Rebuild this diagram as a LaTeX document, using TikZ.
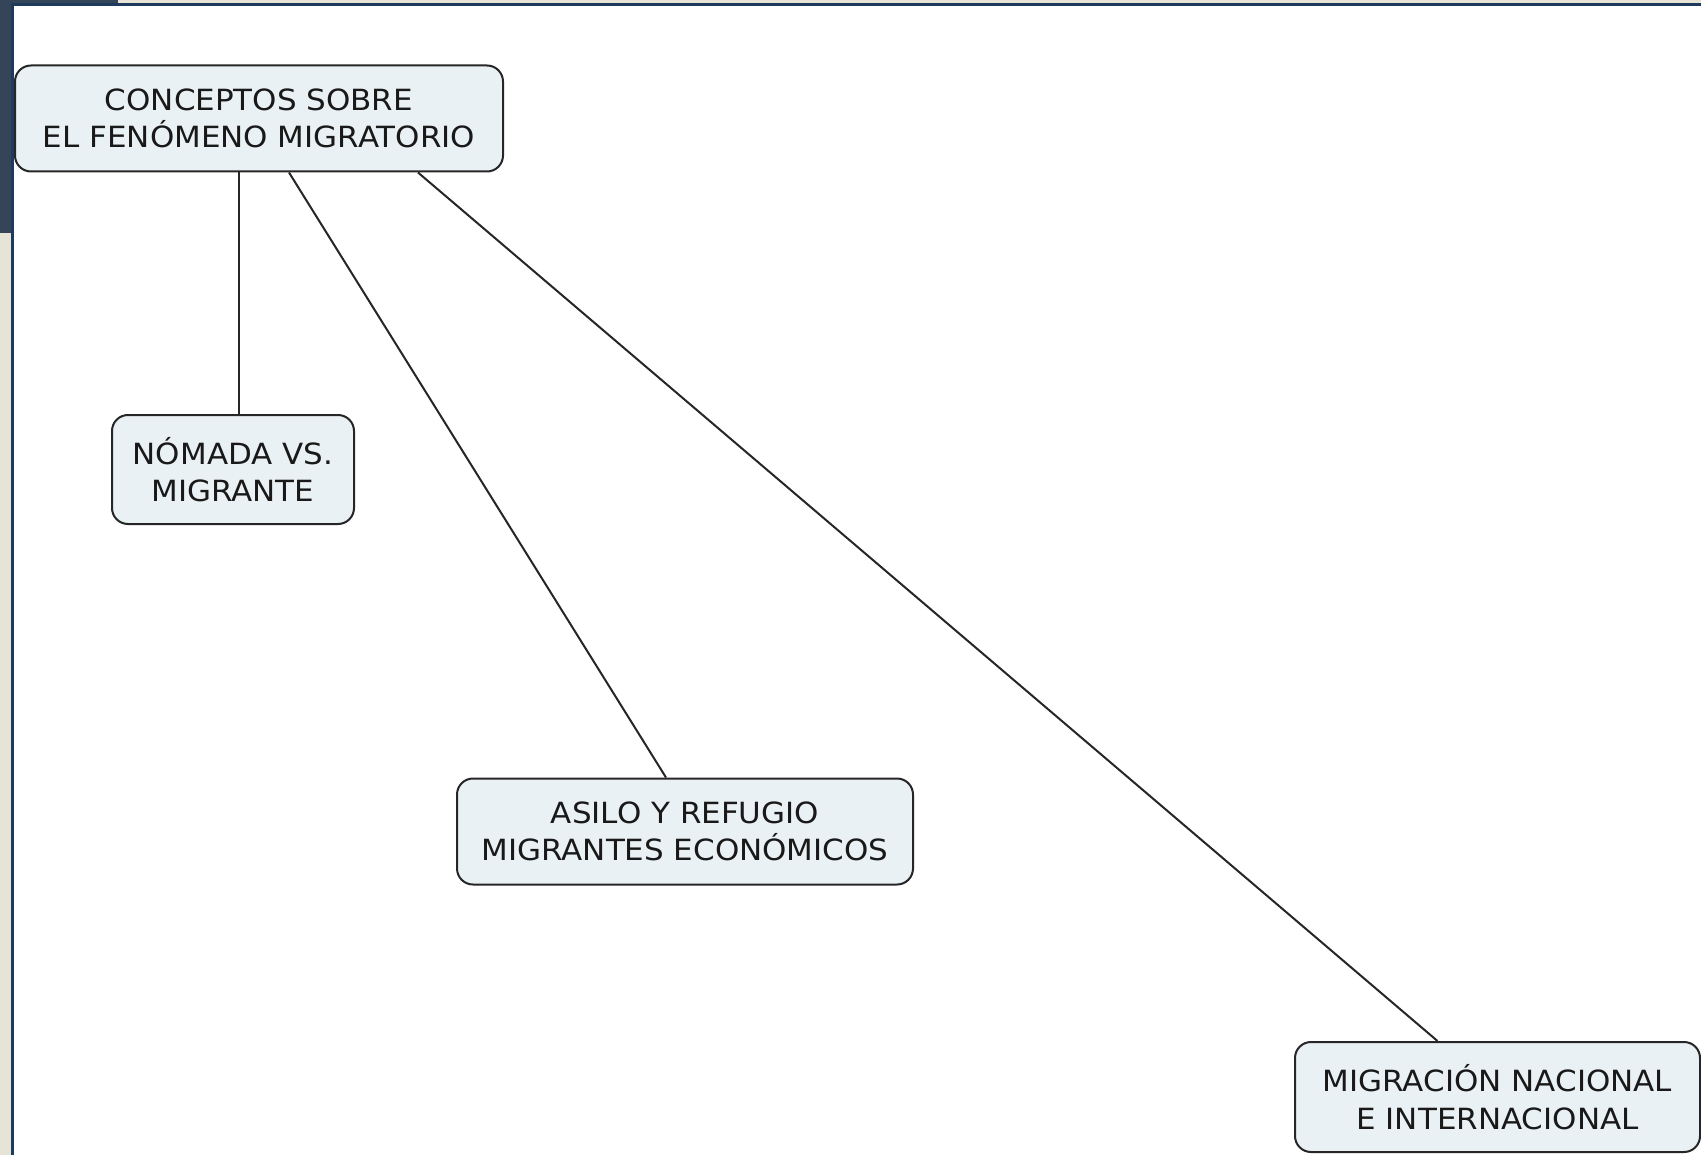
\documentclass[tikz,border=0pt]{standalone}
\usepackage{fontspec}
\setmainfont{DejaVu Sans}[FakeStretch=1.06]
\usetikzlibrary{positioning}
\definecolor{boxfill}{HTML}{EAF1F4}
\definecolor{framecol}{HTML}{1E3A5C}
\definecolor{stripcol}{HTML}{E6E4D6}
\definecolor{darkcol}{HTML}{34455A}
\tikzset{
  concept/.style={draw=black!85, line width=1pt, fill=boxfill, rounded corners=8pt,
    align=center, minimum height=53pt, inner sep=2pt, text=black!90,
    font=\fontsize{14.6}{18.8}\selectfont},
  link/.style={line width=1pt, black!85}
}
\begin{document}
\begin{tikzpicture}[x=0.5pt,y=-0.5pt]
\useasboundingbox (0,0) rectangle (1701,1155);
\fill[stripcol] (0,0) rectangle (1701,1155);
\fill[darkcol] (0,0) rectangle (118,5);
\fill[darkcol] (0,0) rectangle (12,233);
\fill[white] (12,5) rectangle (1701,1155);
\draw[framecol, line width=1.5pt] (12,1155) -- (12,5) -- (1701,5);
\node[concept, minimum width=244pt] (concepts) at (259,118.5) {CONCEPTOS SOBRE\\EL FENÓMENO MIGRATORIO};
\node[concept, minimum width=121pt, minimum height=54.5pt] (nomada) at (233,469.5) {NÓMADA VS.\\MIGRANTE};
\node[concept, minimum width=228pt] (asilo) at (685,831.5) {ASILO Y REFUGIO\\MIGRANTES ECONÓMICOS};
\node[concept, minimum width=202.5pt, minimum height=55pt] (migracion) at (1497.5,1097) {MIGRACIÓN NACIONAL\\E INTERNACIONAL};
\draw[link] ([xshift=-10pt]concepts.south) -- ([xshift=-10pt]concepts.south |- nomada.north);
\draw[link] ([xshift=15pt]concepts.south) -- ([xshift=-9.5pt]asilo.north);
\draw[link] ([xshift=79.5pt]concepts.south) -- ([xshift=-30pt]migracion.north);
\end{tikzpicture}
\end{document}
